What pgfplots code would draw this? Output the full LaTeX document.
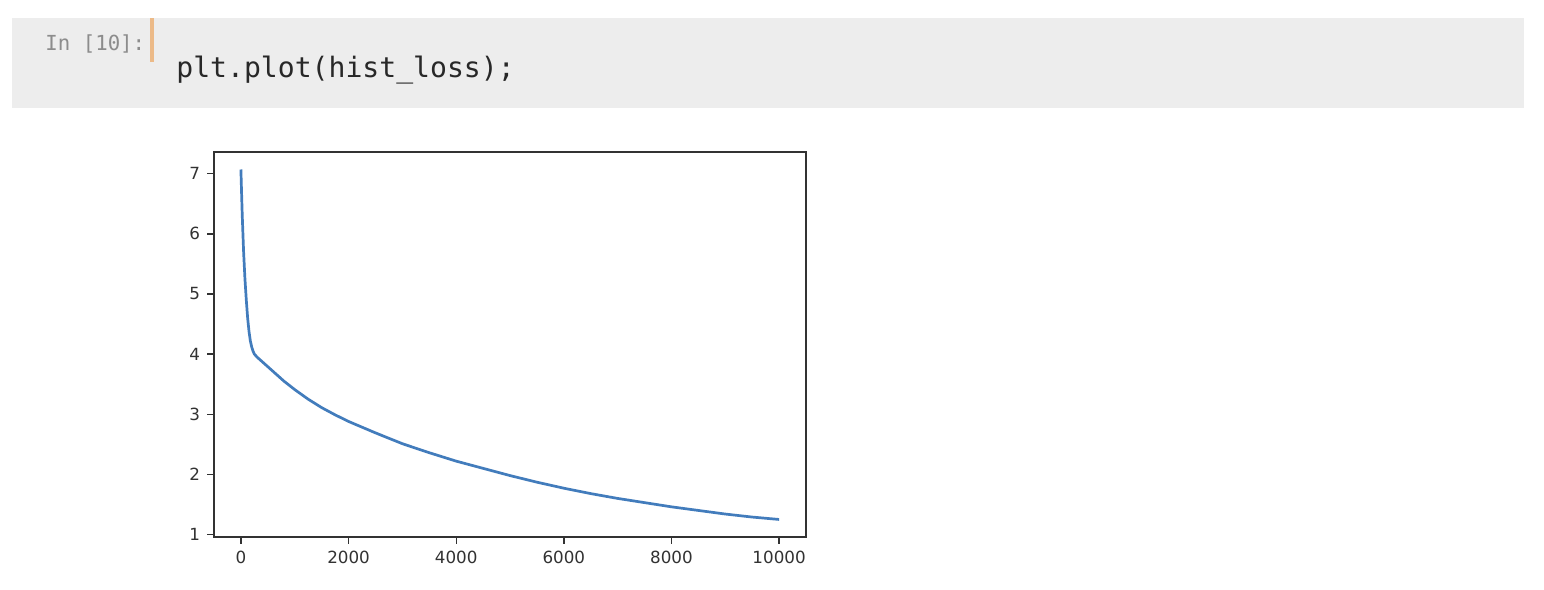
\documentclass[border=0pt]{standalone}
\usepackage{pgfplots}
\pgfplotsset{compat=1.18}
\usepackage{fontspec}
\setmainfont{DejaVu Sans}
\setmonofont{DejaVu Sans Mono}
\definecolor{cellbg}{RGB}{237,237,237}
\definecolor{promptbar}{RGB}{236,186,136}
\definecolor{promptgray}{RGB}{140,140,140}
\definecolor{codetext}{RGB}{40,40,40}
\definecolor{mplblue}{RGB}{66,124,188}
\definecolor{axgray}{RGB}{50,50,50}
\begin{document}
\begin{tikzpicture}[x=0.5bp,y=0.5bp]
\useasboundingbox (0,0) rectangle (1544,590);
\fill[white] (0,0) rectangle (1544,590);
% code cell
\fill[cellbg] (12,482) rectangle (1524,572);
\fill[promptbar] (150,528) rectangle (154,572);
\node[anchor=base west,inner sep=0pt,text=promptgray,font=\fontsize{10.4}{12}\ttfamily] at (45,539) {In [10]:};
\node[anchor=base west,inner sep=0pt,text=codetext,font=\fontsize{14.1}{16}\ttfamily] at (176,512) {plt.plot(hist\_loss);};
\begin{axis}[
  at={(107bp,26.5bp)}, anchor=south west,
  scale only axis, width=296bp, height=192.5bp,
  xmin=-500, xmax=10500, ymin=0.9585, ymax=7.3615,
  xtick={0,2000,4000,6000,8000,10000},
  ytick={1,2,3,4,5,6,7},
  scaled x ticks=false,
  xticklabel style={/pgf/number format/1000 sep={}},
  /pgf/number format/assume math mode=true,
  tick align=outside, tick pos=left,
  major tick length=3.5bp,
  axis line style={line width=0.67bp, color=axgray},
  every tick/.style={line width=0.67bp, color=axgray},
  ticklabel style={font=\fontsize{8.4}{10}\selectfont, text=axgray},
]
\addplot[mplblue, line width=1.35bp, line join=round] coordinates {
(0,7.07) (10,6.75) (25,6.3) (50,5.7) (75,5.25) (100,4.9) (125,4.6) (150,4.38)
(175,4.22) (200,4.12) (225,4.05) (250,4.0) (300,3.95) (400,3.87) (500,3.79) (600,3.71)
(800,3.55) (1000,3.41) (1250,3.25) (1500,3.11) (1750,2.99) (2000,2.88)
(2500,2.69) (3000,2.51) (3500,2.36) (4000,2.22) (4500,2.10) (5000,1.98)
(5500,1.87) (6000,1.77) (6500,1.68) (7000,1.60) (7500,1.53) (8000,1.46)
(8500,1.40) (9000,1.34) (9500,1.29) (10000,1.25)
};
\end{axis}
\end{tikzpicture}%
\end{document}
